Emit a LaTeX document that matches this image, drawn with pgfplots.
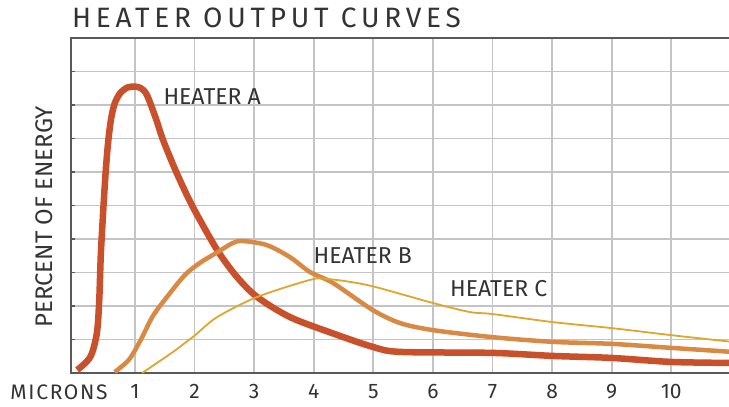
\documentclass[border=0pt]{standalone}
\usepackage{pgfplots}
\pgfplotsset{compat=1.18}
\usepackage{fontspec}
\setmainfont{Fira Sans}
\newfontfamily\titlefont[LetterSpace=17]{Fira Sans}
\newfontfamily\spacedfont[LetterSpace=8]{Fira Sans}

\definecolor{heaterA}{HTML}{C8502A}
\definecolor{heaterB}{HTML}{D88A45}
\definecolor{heaterC}{HTML}{E0A52C}
\definecolor{axisgray}{HTML}{5A5A5A}
\definecolor{gridgray}{HTML}{C4C4C4}
\definecolor{textgray}{HTML}{333333}

\begin{document}
\begin{tikzpicture}
\begin{axis}[
    name=ax,
    scale only axis,
    width=661pt, height=335pt,
    xmin=-0.074, xmax=11.02,
    ymin=0, ymax=10,
    xtick={1,2,...,11},
    xticklabels={1,2,3,4,5,6,7,8,9,10,},
    ytick={1,2,...,9},
    yticklabel=\empty,
    ytick pos=left,
    tick align=inside,
    major tick length=4pt,
    xtick style={draw=none},
    ytick style={draw=axisgray, line width=1.5pt},
    xmajorgrids=true,
    ymajorgrids=true,
    grid style={draw=gridgray, line width=1.8pt},
    axis line style={axisgray, line width=2.5pt},
    xticklabel style={font=\fontsize{21}{21}\selectfont, text=textgray, yshift=-8pt},
    clip=false,
]

% horizontal grid lines drawn as plots
\addplot[gridgray, line width=1.8pt, forget plot] coordinates {(0,1) (5.5,1) (10.9,1)};
\addplot[gridgray, line width=1.8pt, forget plot] coordinates {(0,2) (5.5,2) (10.9,2)};
\addplot[gridgray, line width=1.8pt, forget plot] coordinates {(0,3) (5.5,3) (10.9,3)};
\addplot[gridgray, line width=1.8pt, forget plot] coordinates {(0,4) (5.5,4) (10.9,4)};
\addplot[gridgray, line width=1.8pt, forget plot] coordinates {(0,5) (5.5,5) (10.9,5)};
\addplot[gridgray, line width=1.8pt, forget plot] coordinates {(0,6) (5.5,6) (10.9,6)};
\addplot[gridgray, line width=1.8pt, forget plot] coordinates {(0,7) (5.5,7) (10.9,7)};
\addplot[gridgray, line width=1.8pt, forget plot] coordinates {(0,8) (5.5,8) (10.9,8)};
\addplot[gridgray, line width=1.8pt, forget plot] coordinates {(0,9) (5.5,9) (10.9,9)};

% Heater A
\addplot[heaterA, line width=6.5pt, smooth] coordinates {
    (0.03,0.09) (0.25,0.48) (0.36,1.19) (0.40,2.18) (0.43,3.67)
    (0.50,5.8) (0.55,6.9) (0.60,7.6) (0.66,8.05) (0.75,8.35) (0.87,8.52)
    (1.0,8.55) (1.1,8.5) (1.2,8.3) (1.35,7.6) (1.47,6.96) (1.70,5.97)
    (1.97,4.96) (2.38,3.67) (2.71,2.87) (3.05,2.27) (3.60,1.67) (4.31,1.19)
    (4.99,0.78) (5.45,0.63) (7.0,0.60) (8.01,0.51) (9.0,0.45) (10.0,0.33)
    (11.02,0.30)
};

% Heater B
\addplot[heaterB, line width=4.5pt, smooth] coordinates {
    (0.66,0.03) (0.9,0.4) (1.1,1.0) (1.3,1.7) (1.55,2.3) (1.84,2.93)
    (2.1,3.3) (2.38,3.6) (2.64,3.88) (2.81,3.94) (3.21,3.82) (3.60,3.46)
    (3.94,3.01) (4.32,2.69) (4.99,1.88) (5.45,1.49) (6.0,1.28) (7.0,1.07)
    (8.01,0.93) (9.0,0.87) (10.0,0.75) (11.02,0.63)
};

% Heater C
\addplot[heaterC, line width=1.8pt, smooth] coordinates {
    (1.12,0) (1.64,0.63) (1.84,0.90) (2.01,1.13) (2.38,1.67) (3.05,2.27)
    (3.94,2.78) (4.2,2.81) (4.61,2.72) (5.03,2.57) (6.0,2.09) (6.62,1.82)
    (7.0,1.76) (8.01,1.52) (9.0,1.34) (10.0,1.13) (11.02,0.93)
};

\node[anchor=west, text=textgray, font=\fontsize{23}{23}\selectfont] at (axis cs:1.42,8.24) {HEATER A};
\node[anchor=west, text=textgray, font=\fontsize{23}{23}\selectfont] at (axis cs:3.94,3.52) {HEATER B};
\node[anchor=west, text=textgray, font=\fontsize{23}{23}\selectfont] at (axis cs:6.23,2.51) {HEATER C};

\node[anchor=north, inner sep=0.333em, text=textgray, font=\spacedfont\fontsize{21}{21}\selectfont, yshift=-8pt] at (axis cs:-0.275,0) {MICRONS};
\node[anchor=base, rotate=90, text=textgray, font=\fontsize{24}{24}\selectfont] at ([xshift=-18pt]rel axis cs:0,0.466) {PERCENT OF ENERGY};
\end{axis}
\node[anchor=south west, inner sep=0pt, text=textgray, font=\titlefont\fontsize{28}{28}\selectfont] at ([xshift=1pt,yshift=10pt]ax.north west) {HEATER OUTPUT CURVES};
\pgfresetboundingbox
\path[use as bounding box] ([xshift=-71pt,yshift=-34pt]ax.south west) rectangle ([xshift=-3pt,yshift=38pt]ax.north east);
\end{tikzpicture}
\end{document}
